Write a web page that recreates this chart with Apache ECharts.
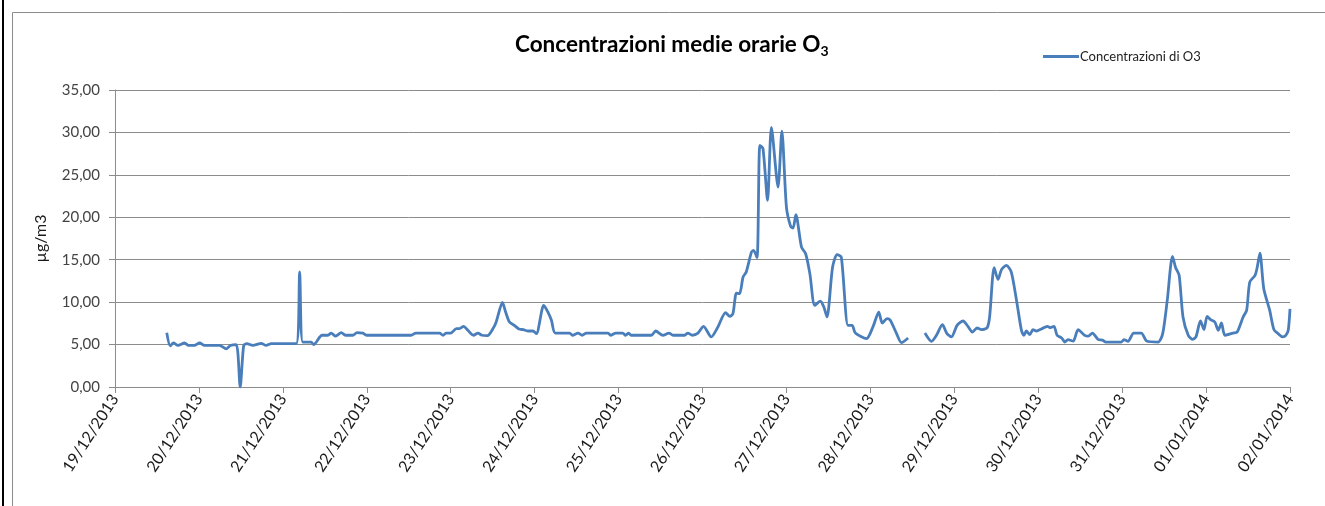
<!DOCTYPE html>
<html>
<head>
<meta charset="utf-8">
<script src="https://cdn.jsdelivr.net/npm/echarts@6/dist/echarts.min.js"></script>
<style>
  html, body { margin: 0; padding: 0; background: #fff; }
  #chart { width: 1325px; height: 506px; }
</style>
</head>
<body>
<div id="chart"></div>
<script>
// ore trascorse dal 19/12/2013 00:00
const hours = [
  14.8, 15.8, 16.7, 18, 19.9, 21, 22.7, 24.2, 25.6, 29.9, 31.8, 33, 34.7, 35.8, 36.8, 37.7,
  39.4, 41.8, 43.2, 44.7, 51.8, 52.8, 53.7, 56.1, 56.8, 59.2, 60.9, 61.8, 63.1, 64.7, 65.9,
  68, 69.2, 70.9, 71.9, 84.7, 86, 92.8, 93.8, 94.7, 96, 97.6, 98.5, 99.7, 100.9, 102.5,
  103.8, 104.9, 106.5, 108.1, 109, 110.8, 111.7, 112.8, 114.3, 115.5, 116.8, 118, 119.5,
  120.5, 122.6, 123.8, 124.8, 125.9, 130, 130.8, 132.4, 133.6, 134.8, 141, 141.7, 143.2,
  145.2, 146, 146.9, 147.6, 153.4, 154.6, 156.7, 158.4, 159.6, 162.9, 163.8, 165.1, 166.7,
  168.3, 170.5, 172.4, 174.6, 175.8, 176.7, 177.7, 178.6, 179.6, 180.5, 182, 182.6, 183.6,
  184.4, 185.3, 186.6, 187.7, 189.6, 190.7, 192, 193.2, 193.9, 194.7, 196.3, 197.5, 198.7,
  200.1, 201.7, 202.7, 203.6, 205.2, 206.5, 207.7, 209.6, 210.8, 211.7, 214.9, 216.8,
  218.4, 219.4, 220.8, 221.7, 223.5, 224.9, 226.8, 229, 231.6, 233.5, 234.9, 236.6, 237.9,
  239.2, 240.8, 242.5, 243.9, 245.2, 246.5, 247.8, 249.4, 250.1, 251.4, 252.5, 253.5,
  254.9, 256.3, 257.8, 259.2, 259.9, 260.6, 261.6, 262.5, 263.5, 264.9, 266.6, 267.5,
  268.5, 269.4, 270.7, 271.6, 272.5, 274, 275.4, 277.3, 278.3, 279.5, 281.1, 282.5, 283.3,
  287.8, 288.5, 289.7, 291.3, 293.5, 295, 298.3, 299.6, 300.9, 302.4, 303.3, 304.3, 305.4,
  306.9, 308.1, 309.1, 310.4, 311.4, 312.3, 313.3, 314.5, 315.5, 316.4, 317.4, 319.7,
  320.9, 322.6, 323.6, 324.5, 326, 326.6, 327.4, 328.5, 330.2, 331.4, 332.6, 333.9, 334.8,
  335.5, 336
];
const o3 = [
  6.4, 4.85, 5.2, 4.9, 5.2, 4.9, 4.9, 5.2, 4.9, 4.9, 4.5, 4.9, 5.0, 0, 4.9, 5.1,
  4.9, 5.15, 4.9, 5.1, 5.1, 13.55, 5.3, 5.3, 5.0, 6.1, 6.1, 6.35, 6.0, 6.4, 6.1,
  6.1, 6.4, 6.35, 6.1, 6.1, 6.35, 6.35, 6.1, 6.35, 6.35, 6.88, 6.88, 7.15, 6.68, 6.1,
  6.35, 6.1, 6.05, 6.88, 7.66, 9.96, 8.83, 7.66, 7.23, 6.83, 6.75, 6.6, 6.6,
  6.29, 9.62, 8.83, 7.86, 6.36, 6.36, 6.1, 6.36, 6.1, 6.36, 6.36, 6.1, 6.36,
  6.36, 6.1, 6.36, 6.1, 6.1, 6.6, 6.1, 6.36, 6.1, 6.1, 6.36, 6.1, 6.35,
  7.15, 5.9, 7.07, 8.76, 8.33, 8.64, 11.07, 11.0, 12.96, 13.55, 15.9, 16.1, 15.24,
  28.47, 28.08, 22.0, 30.6, 23.56, 30.15, 21.2, 18.93, 18.73, 20.3, 16.5, 15.7, 13.36,
  9.62, 10.13, 9.42, 8.25, 14.13, 15.6, 15.3, 7.27, 7.27, 6.36, 5.7, 7.15,
  8.83, 7.54, 8.05, 7.86, 6.29, 5.23, 5.78, null, 6.36, 5.38, 6.09, 7.35, 6.29,
  5.9, 7.27, 7.78, 7.15, 6.48, 6.95, 6.76, 6.99, 8.25, 14.06, 12.68, 13.83,
  14.33, 13.55, 10.2, 6.68, 6.09, 6.6, 6.17, 6.76, 6.6, 6.83, 7.15, 6.99,
  7.15, 6.09, 5.78, 5.3, 5.58, 5.4, 6.76, 6.09, 6.0, 6.36, 5.62, 5.5, 5.3,
  5.3, 5.58, 5.38, 6.36, 6.36, 5.42, 5.3, 6.29, 10.2, 15.4, 14.06, 13.16, 8.25,
  6.09, 5.62, 5.9, 7.78, 6.76, 8.33, 7.94, 7.66, 6.68, 7.54, 6.09, 6.36,
  6.48, 8.25, 9.03, 12.37, 13.16, 14.06, 15.78, 11.59, 9.03, 6.76, 6.29, 5.9, 6.09,
  6.68, 9.2
];
const dayLabels = [
  '19/12/2013', '20/12/2013', '21/12/2013', '22/12/2013', '23/12/2013',
  '24/12/2013', '25/12/2013', '26/12/2013', '27/12/2013', '28/12/2013',
  '29/12/2013', '30/12/2013', '31/12/2013', '01/01/2014', '02/01/2014'
];

let chartObj = echarts.init(document.getElementById('chart'));

let seriesData = hours.map((h, i) => [h, o3[i] === null ? '-' : o3[i]]);

let options = {
  backgroundColor: '#fff',
  animation: false,
  textStyle: { fontFamily: 'Lato' },
  title: {
    left: 510,
    top: 27,
    text: '{a|Concentrazioni medie orarie O}{s|3}',
    textStyle: {
      rich: {
        a: { fontFamily: 'Lato', fontWeight: 'bold', fontSize: 22.5, color: '#000' },
        s: { fontFamily: 'Lato', fontWeight: 'bold', fontSize: 14, color: '#000', padding: [12, 0, 0, 0] }
      }
    }
  },
  legend: {
    left: 1038,
    top: 45,
    itemWidth: 36,
    itemHeight: 3,
    itemGap: 4,
    textStyle: { fontFamily: 'Lato', fontSize: 13, color: '#222', padding: [0, 0, 0, -4] },
    data: [{ name: 'Concentrazioni di O3', icon: 'rect' }]
  },
  grid: { left: 115, right: 35, top: 90, bottom: 119, containLabel: false },
  xAxis: {
    type: 'value',
    min: 0,
    max: 336,
    interval: 24,
    axisLine: { show: true, lineStyle: { color: '#8c8c8c' } },
    axisTick: { show: true, length: 6, lineStyle: { color: '#8c8c8c' } },
    splitLine: { show: false },
    axisLabel: {
      rotate: 57,
      margin: 9,
      fontFamily: 'Lato',
      fontSize: 16,
      color: '#1a1a1a',
      formatter: v => dayLabels[Math.round(v / 24)]
    }
  },
  yAxis: {
    type: 'value',
    min: 0,
    max: 35,
    interval: 5,
    name: 'µg/m3',
    nameLocation: 'middle',
    nameRotate: 90,
    nameGap: 66,
    nameTextStyle: { fontFamily: 'Lato', fontSize: 16, color: '#1a1a1a' },
    axisLine: { show: true, lineStyle: { color: '#8c8c8c' } },
    axisTick: { show: true, length: 6, lineStyle: { color: '#8c8c8c' } },
    splitLine: { lineStyle: { color: '#8c8c8c', width: 1 } },
    axisLabel: {
      margin: 15,
      fontFamily: 'Lato',
      fontSize: 15,
      color: '#444',
      formatter: v => v.toFixed(2).replace('.', ',')
    }
  },
  graphic: [
    { type: 'rect', shape: { x: 2, y: 0, width: 2, height: 506 }, style: { fill: '#000' }, silent: true },
    { type: 'rect', shape: { x: 12.5, y: 12.5, width: 1400, height: 600 }, style: { fill: null, stroke: '#8c8c8c', lineWidth: 1 }, silent: true }
  ],
  series: [
    {
      name: 'Concentrazioni di O3',
      type: 'line',
      smooth: 0.25,
      symbol: 'none',
      connectNulls: false,
      lineStyle: { color: '#4a7ebb', width: 2.8 },
      itemStyle: { color: '#4a7ebb' },
      data: seriesData
    }
  ]
};
chartObj.setOption(options);
</script>
</body>
</html>
